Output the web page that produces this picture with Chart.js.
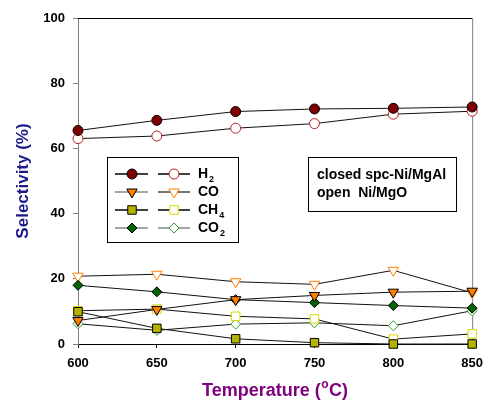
<!DOCTYPE html>
<html>
<head>
<meta charset="utf-8">
<script src="https://cdn.jsdelivr.net/npm/chart.js@4/dist/chart.umd.min.js"></script>
<style>
  html, body { margin: 0; padding: 0; background: #fff; }
  #wrap { width: 491px; height: 403px; }
</style>
</head>
<body>
<div id="wrap"><canvas id="selChart" width="491" height="403"></canvas></div>
<script>
// temperatures (x) and selectivities (%)
var temps = [600, 650, 700, 750, 800, 850];
var h2Closed  = [65.5, 68.6, 71.3, 72.1, 72.3, 72.7];
var h2Open    = [63.0, 63.8, 66.2, 67.6, 70.5, 71.4];
var coClosed  = [7.2, 10.6, 13.6, 14.9, 15.9, 16.2];
var coOpen    = [20.8, 21.4, 19.1, 18.3, 22.6, 15.7];
var ch4Closed = [9.9, 4.8, 1.6, 0.4, 0, 0];
var ch4Open   = [10.2, 10.7, 8.5, 7.7, 1.5, 3.1];
var co2Closed = [18.0, 16.0, 13.6, 12.7, 11.8, 11.0];
var co2Open   = [6.2, 4.2, 6.1, 6.5, 5.6, 10.2];
var yTicks = [0, 20, 40, 60, 80, 100];

var FONT = "'Liberation Sans', Arial, sans-serif";

function pts(vals) {
    return vals.map(function (v, i) { return { x: temps[i], y: v }; });
}

// marker looks, shared by the plot and the hand drawn legend
var styles = {
    h2c:  { pointStyle: 'circle',   radius: 5, rotation: 0,   fill: '#800000', stroke: '#000000' },
    h2o:  { pointStyle: 'circle',   radius: 5, rotation: 0,   fill: '#ffffff', stroke: '#b22222' },
    coc:  { pointStyle: 'triangle', radius: 6, rotation: 180, fill: '#ff7f00', stroke: '#000000' },
    coo:  { pointStyle: 'triangle', radius: 6, rotation: 180, fill: '#ffffff', stroke: '#ff8000' },
    ch4c: { pointStyle: 'rect',     radius: 6, rotation: 0,   fill: '#b4b400', stroke: '#000000' },
    ch4o: { pointStyle: 'rect',     radius: 6, rotation: 0,   fill: '#ffffff', stroke: '#d8d800' },
    co2c: { pointStyle: 'rectRot',  radius: 5, rotation: 0,   fill: '#006400', stroke: '#000000' },
    co2o: { pointStyle: 'rectRot',  radius: 5, rotation: 0,   fill: '#ffffff', stroke: '#2e9b2e' }
};

function ds(vals, s) {
    return {
        data: pts(vals),
        borderColor: '#111',
        borderWidth: 1,
        pointStyle: s.pointStyle,
        pointRadius: s.radius,
        pointHoverRadius: s.radius,
        pointRotation: s.rotation,
        pointBackgroundColor: s.fill,
        pointBorderColor: s.stroke,
        pointBorderWidth: 1,
        clip: false
    };
}

var decor = {
    id: 'decor',
    beforeDatasetsDraw: function (chart) {
        var a = chart.chartArea, ctx = chart.ctx;
        ctx.save();
        ctx.lineWidth = 1;
        ctx.strokeStyle = '#000';
        ctx.beginPath();
        ctx.moveTo(a.left, a.top + 0.5);
        ctx.lineTo(a.right, a.top + 0.5);
        ctx.stroke();
        ctx.strokeStyle = '#808080';
        ctx.beginPath();
        ctx.moveTo(a.right + 0.5, a.top);
        ctx.lineTo(a.right + 0.5, a.bottom);
        ctx.stroke();
        ctx.restore();
    },
    afterDraw: function (chart) {
        var a = chart.chartArea, ctx = chart.ctx;
        ctx.save();

        // x axis title with superscript o
        ctx.fillStyle = '#800080';
        ctx.textBaseline = 'alphabetic';
        var big = 'bold 18px ' + FONT, small = 'bold 12px ' + FONT;
        ctx.font = big;
        var w1 = ctx.measureText('Temperature (').width;
        var w3 = ctx.measureText('C)').width;
        ctx.font = small;
        var w2 = ctx.measureText('o').width + 1;
        var x0 = (a.left + a.right) / 2 - (w1 + w2 + w3) / 2;
        var by = 396;
        ctx.font = big;
        ctx.fillText('Temperature (', x0, by);
        ctx.font = small;
        ctx.fillText('o', x0 + w1 + 0.5, by - 8);
        ctx.font = big;
        ctx.fillText('C)', x0 + w1 + w2, by);

        // legend box
        ctx.fillStyle = '#fff';
        ctx.fillRect(107, 157, 131, 85);
        ctx.strokeStyle = '#000';
        ctx.lineWidth = 1;
        ctx.strokeRect(107.5, 157.5, 131, 85);

        var rows = [
            { c: styles.h2c,  o: styles.h2o,  lc: '#000', lo: '#000', t: 'H',  sub: '2' },
            { c: styles.coc,  o: styles.coo,  lc: '#888', lo: '#444', t: 'CO', sub: '' },
            { c: styles.ch4c, o: styles.ch4o, lc: '#000', lo: '#000', t: 'CH', sub: '4' },
            { c: styles.co2c, o: styles.co2o, lc: '#888', lo: '#888', t: 'CO', sub: '2' }
        ];
        rows.forEach(function (r, i) {
            var y = 174 + i * 18;
            ctx.lineWidth = 1.5;
            ctx.strokeStyle = r.lc;
            ctx.beginPath(); ctx.moveTo(115, y); ctx.lineTo(148, y); ctx.stroke();
            ctx.strokeStyle = r.lo;
            ctx.beginPath(); ctx.moveTo(158, y); ctx.lineTo(190, y); ctx.stroke();
            [[r.c, 132], [r.o, 174]].forEach(function (p) {
                var s = p[0];
                ctx.fillStyle = s.fill;
                ctx.strokeStyle = s.stroke;
                ctx.lineWidth = 1;
                Chart.helpers.drawPoint(ctx, {
                    pointStyle: s.pointStyle, radius: s.radius,
                    rotation: s.rotation, borderWidth: 1
                }, p[1], y);
            });
            ctx.fillStyle = '#000';
            ctx.font = 'bold 14px ' + FONT;
            ctx.textBaseline = 'middle';
            ctx.fillText(r.t, 198, y);
            if (r.sub) {
                var tw = ctx.measureText(r.t).width;
                ctx.font = 'bold 9px ' + FONT;
                ctx.fillText(r.sub, 198 + tw + 1, y + 6);
            }
        });

        // note box
        ctx.fillStyle = '#fff';
        ctx.fillRect(308, 157, 148, 54);
        ctx.strokeStyle = '#000';
        ctx.lineWidth = 1;
        ctx.strokeRect(308.5, 157.5, 148, 54);
        ctx.fillStyle = '#000';
        ctx.font = 'bold 14px ' + FONT;
        ctx.textBaseline = 'middle';
        ctx.fillText('closed spc-Ni/MgAl', 317, 175);
        ctx.fillText('open  Ni/MgO', 317, 193);

        ctx.restore();
    }
};

var ctx = document.getElementById('selChart').getContext('2d');
var selChart = new Chart(ctx, {
    type: 'line',
    data: {
        datasets: [
            ds(h2Closed, styles.h2c),
            ds(coClosed, styles.coc),
            ds(ch4Closed, styles.ch4c),
            ds(co2Closed, styles.co2c),
            ds(h2Open, styles.h2o),
            ds(coOpen, styles.coo),
            ds(ch4Open, styles.ch4o),
            ds(co2Open, styles.co2o)
        ]
    },
    options: {
        responsive: false,
        animation: false,
        layout: { padding: { top: 18, right: 12, left: 0, bottom: 0 } },
        plugins: { legend: { display: false }, tooltip: { enabled: false } },
        scales: {
            x: {
                type: 'linear',
                min: 600, max: 850,
                afterBuildTicks: function (scale) {
                    scale.ticks = temps.map(function (t) { return { value: t }; });
                },
                afterFit: function (scale) { scale.height = 59; },
                grid: { drawOnChartArea: false, tickLength: 4, color: '#000' },
                border: { color: '#000', width: 1 },
                ticks: { color: '#000', padding: 8, maxRotation: 0, font: { family: FONT, size: 13, weight: 'bold' } },
                title: { display: false }
            },
            y: {
                min: 0, max: 100,
                afterBuildTicks: function (scale) {
                    scale.ticks = yTicks.map(function (t) { return { value: t }; });
                },
                afterFit: function (scale) { scale.width = 78; },
                grid: { drawOnChartArea: false, tickLength: 5, color: '#808080' },
                border: { color: '#808080', width: 1 },
                ticks: { color: '#000', padding: 8, font: { family: FONT, size: 13, weight: 'bold' } },
                title: {
                    display: true,
                    text: 'Selectivity (%)',
                    color: '#1a1a8a',
                    font: { family: FONT, size: 17, weight: 'bold' },
                    padding: { top: 13, bottom: 0 }
                }
            }
        }
    },
    plugins: [decor]
});
</script>
</body>
</html>
